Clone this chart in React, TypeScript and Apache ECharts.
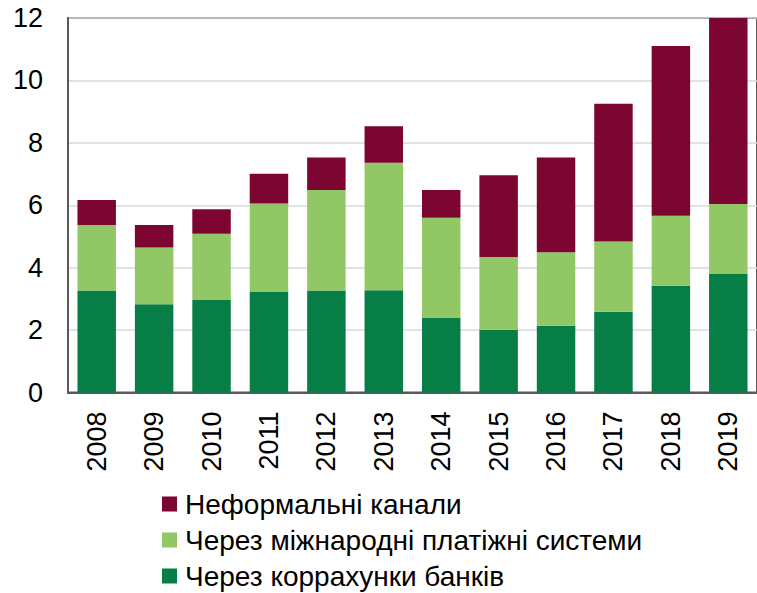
import React, { useEffect, useRef } from "react";
import * as echarts from "echarts";

const years = ["2008", "2009", "2010", "2011", "2012", "2013", "2014", "2015", "2016", "2017", "2018", "2019"];
const banks = [3.27, 2.83, 2.96, 3.24, 3.27, 3.28, 2.39, 2.01, 2.14, 2.59, 3.42, 3.8];
const paymentSystems = [2.1, 1.82, 2.13, 2.82, 3.22, 4.08, 3.21, 2.33, 2.35, 2.25, 2.24, 2.24];
const informal = [0.8, 0.72, 0.78, 0.95, 1.04, 1.17, 0.89, 2.62, 3.04, 4.41, 5.44, 5.96];
const seriesNames = ["Через коррахунки банків", "Через міжнародні платіжні системи", "Неформальні канали"];
const legendOrder = ["Неформальні канали", "Через міжнародні платіжні системи", "Через коррахунки банків"];
const yTicks = { min: 0, max: 12, interval: 2 };

const FONT = "'Liberation Sans', Arial, sans-serif";

export default function App() {
  const ref = useRef<HTMLDivElement>(null);
  useEffect(() => {
    if (!ref.current) return;
    const chart = echarts.init(ref.current, null, { renderer: "svg" });
    const legendTops = [490, 526, 562];
    chart.setOption({
      animation: false,
      grid: {
        left: 68,
        top: 18,
        bottom: 200.5,
        right: -6,
        show: true,
        borderColor: "#5a5a5a",
        borderWidth: 2,
      },
      legend: legendOrder.map((name, i) => ({
        orient: "vertical",
        left: 162,
        top: legendTops[i],
        padding: 0,
        itemWidth: 15,
        itemHeight: 15,
        icon: "rect",
        textStyle: { fontFamily: FONT, fontSize: 28, color: "#000", padding: [0, 0, 0, 3] },
        data: [name],
      })),
      xAxis: {
        type: "category",
        data: years,
        axisLine: { lineStyle: { color: "#5a5a5a", width: 2 } },
        axisTick: { inside: true, length: 7, lineStyle: { color: "#5a5a5a", width: 2 } },
        axisLabel: {
          rotate: 90,
          margin: 19,
          fontFamily: FONT,
          fontSize: 27,
          color: "#000",
        },
      },
      yAxis: {
        type: "value",
        min: yTicks.min,
        max: yTicks.max,
        interval: yTicks.interval,
        axisLine: { show: true, lineStyle: { color: "#5a5a5a", width: 2 } },
        axisTick: { show: false },
        splitLine: { lineStyle: { color: "#d3dada", width: 1.5 } },
        axisLabel: { margin: 25, fontFamily: FONT, fontSize: 27, color: "#000" },
      },
      series: [
        {
          name: seriesNames[0],
          type: "bar",
          stack: "total",
          data: banks,
          barCategoryGap: "33%",
          itemStyle: { color: "#067e46" },
        },
        {
          name: seriesNames[1],
          type: "bar",
          stack: "total",
          data: paymentSystems,
          itemStyle: { color: "#92c766" },
        },
        {
          name: seriesNames[2],
          type: "bar",
          stack: "total",
          data: informal,
          itemStyle: { color: "#7d0531" },
        },
      ],
    });
    return () => chart.dispose();
  }, []);
  return <div ref={ref} style={{ width: 757, height: 593, position: "absolute", left: 0, top: 0 }} />;
}
